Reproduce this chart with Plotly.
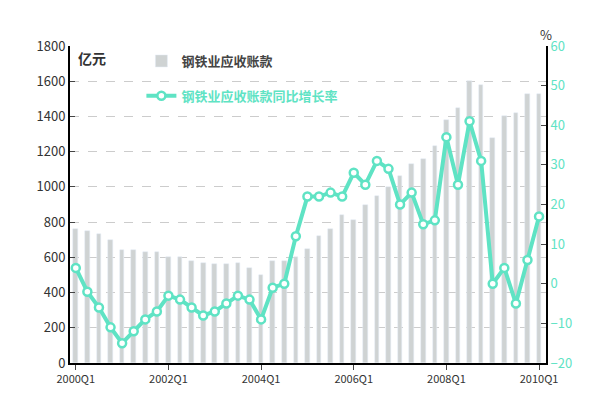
import plotly.graph_objects as go

quarters = [f"{y}Q{q}" for y in range(2000, 2011) for q in range(1, 5)][:41]
receivables = [760, 750, 730, 700, 640, 640, 630, 630, 600, 600, 580, 570,
               560, 560, 570, 540, 500, 580, 580, 600, 650, 720, 760, 840,
               810, 900, 950, 1000, 1060, 1130, 1160, 1230, 1380, 1450, 1600, 1580,
               1280, 1400, 1420, 1530, 1530]
growth = [4, -2, -6, -11, -15, -12, -9, -7, -3, -4, -6, -8, -7, -5, -3, -4,
          -9, -1, 0, 12, 22, 22, 23, 22, 28, 25, 31, 29, 20, 23, 15, 16,
          37, 25, 41, 31, 0, 4, -5, 6, 17]
tick_labels = ["2000Q1", "2002Q1", "2004Q1", "2006Q1", "2008Q1", "2010Q1"]

teal = "#5fe3c4"
idx = list(range(len(quarters)))

fig = go.Figure()
fig.add_trace(go.Bar(x=idx, y=receivables, name="<b>钢铁业应收账款</b>",
                     marker_color="#cfd3d3", width=0.4, legend="legend", showlegend=True))
fig.add_trace(go.Scatter(x=idx, y=growth, name="<b>钢铁业应收账款同比增长率</b>", yaxis="y2",
                         mode="lines+markers", line=dict(color=teal, width=4),
                         marker=dict(size=8, color="white", line=dict(color=teal, width=2.5)),
                         legend="legend2", showlegend=True))

fig.update_layout(
    width=600, height=416,
    margin=dict(l=62, r=62, t=38, b=61),
    paper_bgcolor="white", plot_bgcolor="white",
    font=dict(family="Noto Sans CJK SC", size=13, color="#333"),
    showlegend=True,
    bargap=0,
    xaxis=dict(range=[-0.5, 40.6], tickvals=[0, 8, 16, 24, 32, 40], ticktext=tick_labels,
               showline=True, linecolor="black", linewidth=2, ticks="outside",
               tickfont=dict(size=11), showgrid=False),
    yaxis=dict(range=[0, 1800], dtick=200, showline=True, linecolor="black", linewidth=2,
               ticks="inside", gridcolor="#cccccc", griddash="dash", tickfont=dict(size=13)),
    yaxis2=dict(range=[-20, 60], dtick=10, overlaying="y", side="right", showgrid=False,
                showline=True, linecolor="black", linewidth=2, ticks="inside",
                tickfont=dict(size=13, color=teal)),
    legend=dict(x=0.15, y=1.0, bgcolor="rgba(0,0,0,0)", font=dict(size=13, color="#444")),
    legend2=dict(x=0.15, y=0.89, bgcolor="rgba(0,0,0,0)", font=dict(size=13, color=teal)),
    annotations=[
        dict(text="<b>亿元</b>", x=0, y=1.0, xref="paper", yref="paper", xanchor="left",
             yanchor="top", xshift=6, showarrow=False, font=dict(size=14, color="#333")),
        dict(text="%", x=1, y=1.0, xref="paper", yref="paper", xanchor="right",
             yanchor="bottom", xshift=8, showarrow=False, font=dict(size=13, color="#333")),
    ],
)

fig.write_html("out.html")
